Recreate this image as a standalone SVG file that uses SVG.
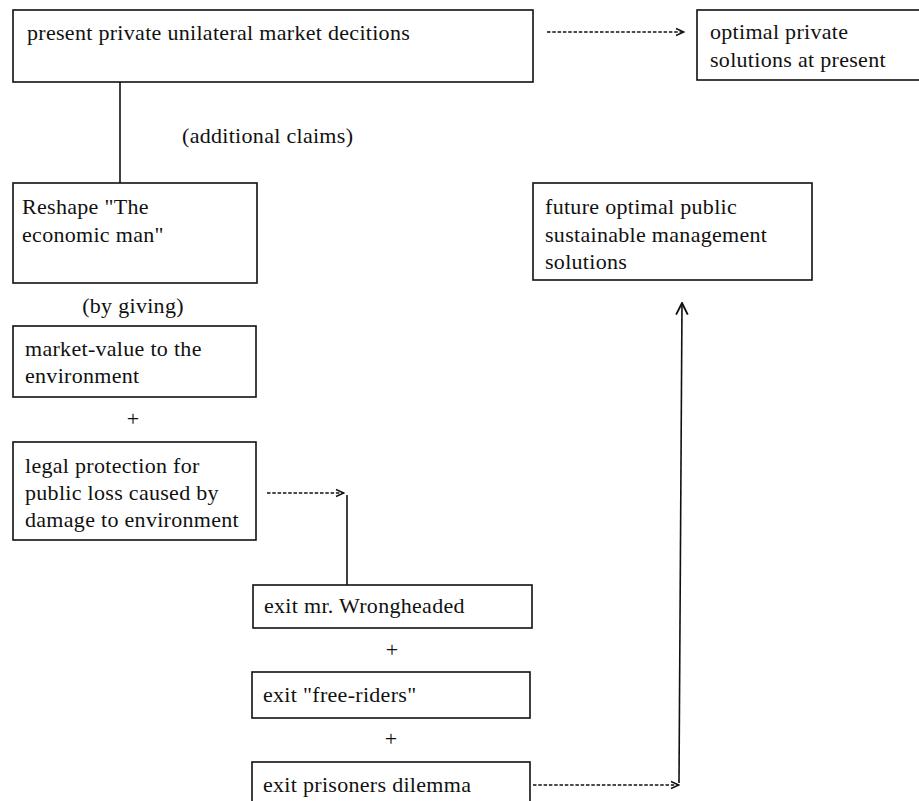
<svg xmlns="http://www.w3.org/2000/svg" width="919" height="801" viewBox="0 0 919 801">
<defs>
<style>
.box{fill:#fff;stroke:#111;stroke-width:1.6}
.t{font-family:"Liberation Serif","Times New Roman",serif;font-size:22px;letter-spacing:0.3px;fill:#111}
.c{text-anchor:middle}
.ln{fill:none;stroke:#111;stroke-width:1.6}
.dash{fill:none;stroke:#111;stroke-width:1.5;stroke-dasharray:3.5 1.8}
</style>
<marker id="chev" viewBox="0 0 10 10" refX="9" refY="5" markerWidth="10" markerHeight="10" markerUnits="userSpaceOnUse" orient="auto">
<polyline points="1,1.5 9,5 1,8.5" fill="none" stroke="#111" stroke-width="1.4"/>
</marker>
<marker id="up" viewBox="0 0 12 12" refX="11" refY="6" markerWidth="14" markerHeight="14" markerUnits="userSpaceOnUse" orient="auto">
<polyline points="1,1 11,6 1,11" fill="none" stroke="#111" stroke-width="1.6"/>
</marker>
</defs>
<rect width="919" height="801" fill="#fff"/>

<g id="connectors">
<line class="dash" x1="547" y1="32" x2="684" y2="32" marker-end="url(#chev)"/>
<line class="ln" x1="120" y1="82" x2="120" y2="183"/>
<line class="dash" x1="267" y1="493" x2="344" y2="493" marker-end="url(#chev)"/>
<polyline class="ln" points="347,495 347,585"/>
<line class="dash" x1="533" y1="785" x2="679" y2="785" marker-end="url(#chev)"/>
<line class="ln" x1="679" y1="783" x2="682" y2="303" marker-end="url(#up)"/>
</g>

<g id="n-present">
<rect class="box" x="13" y="10" width="520" height="72"/>
<text class="t" x="27" y="40">present private unilateral market decitions</text>
</g>
<g id="n-optimal-private">
<rect class="box" x="697" y="10" width="240" height="70"/>
<text class="t" x="710" y="39">optimal private</text>
<text class="t" x="710" y="67">solutions at present</text>
</g>
<g id="l-additional">
<text class="t" x="182" y="143">(additional claims)</text>
</g>
<g id="n-reshape">
<rect class="box" x="13" y="183" width="244" height="100"/>
<text class="t" x="22" y="214">Reshape "The</text>
<text class="t" x="22" y="242">economic man"</text>
</g>
<g id="n-future">
<rect class="box" x="533" y="183" width="279" height="97"/>
<text class="t" x="545" y="214">future optimal public</text>
<text class="t" x="545" y="242">sustainable management</text>
<text class="t" x="545" y="269">solutions</text>
</g>
<g id="l-giving">
<text class="t c" x="133" y="313">(by giving)</text>
</g>
<g id="n-market">
<rect class="box" x="13" y="326" width="243" height="71"/>
<text class="t" x="25" y="356">market-value to the</text>
<text class="t" x="25" y="383">environment</text>
</g>
<g id="l-plus1">
<text class="t c" x="133" y="426">+</text>
</g>
<g id="n-legal">
<rect class="box" x="13" y="442" width="243" height="98"/>
<text class="t" x="25" y="473">legal protection for</text>
<text class="t" x="25" y="500">public loss caused by</text>
<text class="t" x="25" y="527">damage to environment</text>
</g>
<g id="n-wrong">
<rect class="box" x="253" y="585" width="279" height="43"/>
<text class="t" x="264" y="613">exit mr. Wrongheaded</text>
</g>
<g id="l-plus2">
<text class="t c" x="392" y="657">+</text>
</g>
<g id="n-free">
<rect class="box" x="252" y="672" width="278" height="46"/>
<text class="t" x="263" y="702">exit "free-riders"</text>
</g>
<g id="l-plus3">
<text class="t c" x="391" y="746">+</text>
</g>
<g id="n-prisoners">
<rect class="box" x="252" y="762" width="278" height="60"/>
<text class="t" x="263" y="792">exit prisoners dilemma</text>
</g>
</svg>
